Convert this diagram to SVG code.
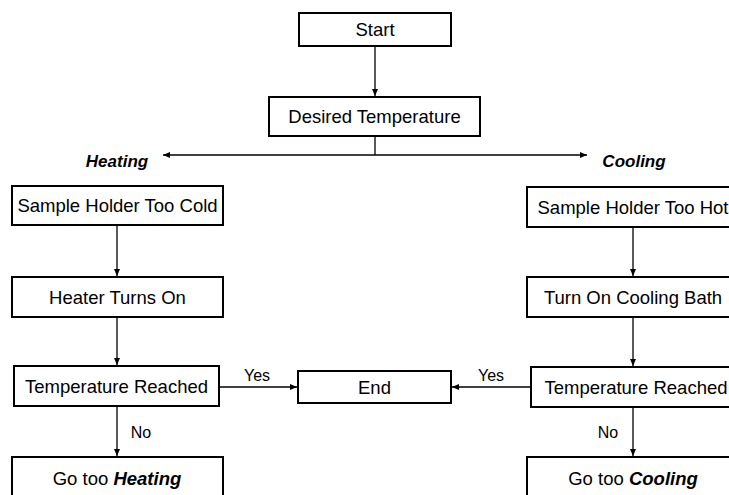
<svg xmlns="http://www.w3.org/2000/svg" width="729" height="495" viewBox="0 0 729 495">
<style>
.box{fill:#fff;stroke:#000;stroke-width:2}
.t{font-family:"Liberation Sans",Arial,sans-serif;font-size:18.5px;fill:#000;text-anchor:middle}
.lbl{font-family:"Liberation Sans",Arial,sans-serif;font-size:16px;fill:#000;text-anchor:middle}
.bi{font-weight:bold;font-style:italic}
.h{font-family:"Liberation Sans",Arial,sans-serif;font-size:17px;font-weight:bold;font-style:italic;fill:#000;text-anchor:middle}
.c{stroke:#000;stroke-width:1.3;fill:none}
</style>
<defs>
<marker id="ah" markerUnits="userSpaceOnUse" markerWidth="7" markerHeight="6" refX="7" refY="3" orient="auto-start-reverse">
<path d="M0,0 L7,3 L0,6 z" fill="#000"/>
</marker>
</defs>
<rect width="729" height="495" fill="#fff"/>
<g id="connectors">
<line class="c" x1="375" y1="47" x2="375" y2="96" marker-end="url(#ah)"/>
<line class="c" x1="375" y1="137" x2="375" y2="155"/>
<line class="c" x1="163" y1="155" x2="587" y2="155" marker-start="url(#ah)" marker-end="url(#ah)"/>
<line class="c" x1="117" y1="226" x2="117" y2="276" marker-end="url(#ah)"/>
<line class="c" x1="117" y1="318" x2="117" y2="365" marker-end="url(#ah)"/>
<line class="c" x1="117" y1="407" x2="117" y2="456" marker-end="url(#ah)"/>
<line class="c" x1="220" y1="387" x2="297" y2="387" marker-end="url(#ah)"/>
<line class="c" x1="633" y1="228" x2="633" y2="276" marker-end="url(#ah)"/>
<line class="c" x1="633" y1="318" x2="633" y2="366" marker-end="url(#ah)"/>
<line class="c" x1="633" y1="408" x2="633" y2="456" marker-end="url(#ah)"/>
<line class="c" x1="530" y1="387" x2="452" y2="387" marker-end="url(#ah)"/>
<text class="lbl" x="257" y="381">Yes</text>
<text class="lbl" x="491" y="381">Yes</text>
<text class="lbl" x="141" y="438">No</text>
<text class="lbl" x="608" y="438">No</text>
</g>
<g id="heating-label"><text class="h" x="117" y="167">Heating</text></g>
<g id="cooling-label"><text class="h" x="634" y="167">Cooling</text></g>
<g id="start"><rect class="box" x="299" y="13" width="152" height="33"/><text class="t" x="375" y="36">Start</text></g>
<g id="desired"><rect class="box" x="269" y="97" width="211" height="39"/><text class="t" x="374.5" y="123">Desired Temperature</text></g>
<g id="too-cold"><rect class="box" x="12" y="186" width="211" height="39"/><text class="t" x="117.5" y="212">Sample Holder Too Cold</text></g>
<g id="heater-on"><rect class="box" x="12" y="277" width="211" height="40"/><text class="t" x="117.5" y="303.5">Heater Turns On</text></g>
<g id="reached-heat"><rect class="box" x="14" y="366" width="205" height="40"/><text class="t" x="116.5" y="392.5">Temperature Reached</text></g>
<g id="goto-heating"><rect class="box" x="12" y="457" width="211" height="45"/><text class="t" x="117" y="485">Go too <tspan class="bi">Heating</tspan></text></g>
<g id="too-hot"><rect class="box" x="527" y="187" width="212" height="40"/><text class="t" x="633" y="213.5">Sample Holder Too Hot</text></g>
<g id="cooling-on"><rect class="box" x="527" y="277" width="212" height="40"/><text class="t" x="633" y="303.5">Turn On Cooling Bath</text></g>
<g id="reached-cool"><rect class="box" x="531" y="367" width="212" height="40"/><text class="t" x="636" y="393.5">Temperature Reached</text></g>
<g id="goto-cooling"><rect class="box" x="527" y="457" width="212" height="45"/><text class="t" x="633" y="485">Go too <tspan class="bi">Cooling</tspan></text></g>
<g id="end"><rect class="box" x="298" y="371" width="153" height="32"/><text class="t" x="374.5" y="393.5">End</text></g>
</svg>
